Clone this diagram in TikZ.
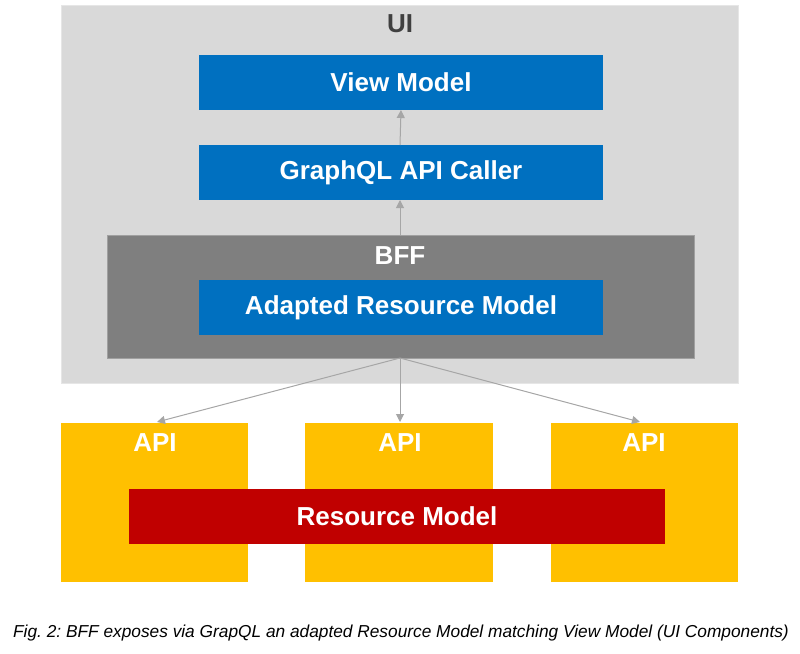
\documentclass[tikz,border=0pt]{standalone}
\usepackage{fontspec}
\setmainfont{Liberation Sans}
\usetikzlibrary{arrows.meta}
\frenchspacing
\definecolor{uigray}{HTML}{D9D9D9}
\definecolor{uiborder}{HTML}{E6E6E6}
\definecolor{bffgray}{HTML}{7F7F7F}
\definecolor{bffborder}{HTML}{A0A0A0}
\definecolor{blueb}{HTML}{0070C0}
\definecolor{apiy}{HTML}{FFC000}
\definecolor{resred}{HTML}{C00000}
\definecolor{arrowgray}{HTML}{A6A6A6}
\definecolor{uitext}{HTML}{404040}
\begin{document}
\begin{tikzpicture}[x=1pt,y=-1pt,
  box/.style={inner sep=0pt, outer sep=0pt},
  lbl/.style={font=\fontsize{26}{30}\selectfont\bfseries, text=white},
  conn/.style={draw=arrowgray, line width=1pt, -{Triangle[width=8pt,length=8pt]}}]
\useasboundingbox (0,0) rectangle (800,653);
% UI container
\draw[fill=uigray, draw=uiborder, line width=1pt] (61,5) rectangle (738,383);
\node[font=\fontsize{26}{30}\selectfont\bfseries, text=uitext] (ui) at (400,24) {UI};
% View model
\node[box, fill=blueb, minimum width=404pt, minimum height=55pt, lbl] (vm) at (401,82.5) {View Model};
\node[box, fill=blueb, minimum width=404pt, minimum height=55pt, lbl] (gq) at (401,172.5) {GraphQL API Caller};
% BFF
\node[box, fill=bffgray, draw=bffborder, line width=1pt, minimum width=587pt, minimum height=123pt] (bff) at (400.5,296.5) {};
\node[lbl] (bfflbl) at (400,256) {BFF};
\node[box, fill=blueb, minimum width=404pt, minimum height=55pt, lbl] (arm) at (401,307.5) {Adapted Resource Model};
% APIs
\node[box, fill=apiy, minimum width=187pt, minimum height=159pt] (api1) at (154.5,502.5) {};
\node[box, fill=apiy, minimum width=188pt, minimum height=159pt] (api2) at (399,502.5) {};
\node[box, fill=apiy, minimum width=187pt, minimum height=159pt] (api3) at (644.5,502.5) {};
\node[lbl] (a1) at (155,443) {API};
\node[lbl] (a2) at (400,443) {API};
\node[lbl] (a3) at (644,443) {API};
\node[box, fill=resred, minimum width=536pt, minimum height=55pt, lbl] (rm) at (397,516.5) {Resource Model};
% connectors
\coordinate (bffbot) at (400,358);
\coordinate (t1) at (157,422);
\coordinate (t2) at (400,422);
\coordinate (t3) at (640,422);
\draw[conn] (gq.north -| 400,0) -- (vm.south -| 401,0);
\draw[conn] (bff.north -| 400,0) -- (gq.south -| 400,0);
\draw[conn] (bffbot) -- (t1);
\draw[conn] (bffbot) -- (t2);
\draw[conn] (bffbot) -- (t3);
% caption
\node[font=\fontsize{17.3}{20}\selectfont\itshape, text=black] (cap) at (401,633) {Fig. 2: BFF exposes via GrapQL an adapted Resource Model matching View Model (UI Components)};
\end{tikzpicture}
\end{document}
